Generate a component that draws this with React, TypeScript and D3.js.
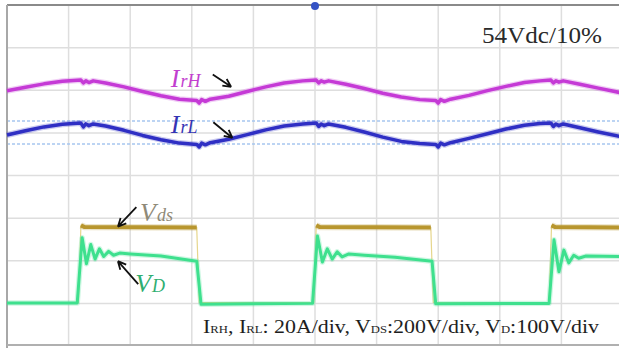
import React, { useEffect, useRef } from 'react';
import * as d3 from 'd3';

// scope screen: 10 x 8 divisions, values below are in divisions
const irH: [number, number][] = [
  [0, 5.99], [0.3, 6.07], [0.6, 6.15], [0.9, 6.21], [1.2, 6.24], [1.24, 6.17], [1.28, 6.22], [1.33, 6.18], [1.4, 6.22],
  [1.6, 6.17], [1.9, 6.08], [2.2, 5.97], [2.5, 5.87], [2.8, 5.79], [3.08, 5.76], [3.12, 5.7], [3.16, 5.78], [3.22, 5.74],
  [3.3, 5.79], [3.6, 5.86], [3.9, 5.97], [4.2, 6.08], [4.5, 6.17], [4.8, 6.22], [5.02, 6.24], [5.06, 6.17], [5.1, 6.22],
  [5.15, 6.19], [5.22, 6.22], [5.5, 6.14], [5.8, 6.04], [6.1, 5.93], [6.4, 5.84], [6.7, 5.78], [6.96, 5.76], [7.0, 5.7],
  [7.04, 5.78], [7.1, 5.74], [7.2, 5.79], [7.5, 5.88], [7.8, 5.99], [8.1, 6.09], [8.4, 6.18], [8.65, 6.22], [8.83, 6.24],
  [8.87, 6.17], [8.91, 6.22], [8.96, 6.19], [9.03, 6.22], [9.3, 6.14], [9.6, 6.05], [10, 5.93],
];

const irL: [number, number][] = [
  [0, 4.95], [0.3, 5.05], [0.6, 5.14], [0.9, 5.2], [1.2, 5.23], [1.24, 5.14], [1.28, 5.21], [1.33, 5.17], [1.4, 5.21],
  [1.6, 5.16], [1.9, 5.06], [2.2, 4.94], [2.5, 4.84], [2.8, 4.76], [3.08, 4.73], [3.12, 4.67], [3.16, 4.76], [3.22, 4.72],
  [3.3, 4.77], [3.6, 4.85], [3.9, 4.96], [4.2, 5.07], [4.5, 5.16], [4.8, 5.21], [5.02, 5.23], [5.06, 5.15], [5.1, 5.21],
  [5.15, 5.17], [5.22, 5.21], [5.5, 5.13], [5.8, 5.02], [6.1, 4.9], [6.4, 4.8], [6.7, 4.75], [6.96, 4.73], [7.0, 4.67],
  [7.04, 4.76], [7.1, 4.72], [7.2, 4.77], [7.5, 4.87], [7.8, 4.98], [8.1, 5.09], [8.4, 5.18], [8.65, 5.22], [8.83, 5.23],
  [8.87, 5.15], [8.91, 5.21], [8.96, 5.17], [9.03, 5.21], [9.3, 5.12], [9.6, 5.02], [10, 4.9],
];

const vds: [number, number][] = [
  [0, 1.02], [1.16, 1.02], [1.2, 2.83], [1.26, 2.79], [3.08, 2.78], [3.12, 1.02], [4.98, 1.02], [5.02, 2.83],
  [5.08, 2.79], [6.88, 2.78], [6.92, 1.02], [8.8, 1.02], [8.84, 2.83], [8.9, 2.79], [10, 2.78],
];

const vD: [number, number][] = [
  [0, 1.01], [1.14, 1.01], [1.22, 2.54], [1.29, 1.93], [1.36, 2.38], [1.43, 2.04], [1.5, 2.28], [1.57, 2.1], [1.65, 2.22],
  [1.73, 2.13], [1.83, 2.18], [2.0, 2.16], [2.5, 2.11], [3.08, 1.99], [3.15, 0.98], [4.96, 1.0], [5.04, 2.58], [5.12, 1.97],
  [5.2, 2.28], [5.28, 2.04], [5.36, 2.21], [5.44, 2.09], [5.55, 2.16], [5.8, 2.13], [6.3, 2.08], [6.9, 1.99], [6.96, 0.99],
  [8.8, 1.0], [8.88, 2.49], [8.96, 1.74], [9.04, 2.25], [9.12, 1.95], [9.2, 2.13], [9.28, 2.06], [9.4, 2.11], [10, 2.1],
];

const cursorLevels = [5.28, 4.74];
const triggerTime = 5.0;

// annotation anchors (divisions): label position, arrow tail, arrow tip
const notes = [
  { main: 'I', sub: 'rH', color: '#c23fcf', at: [2.66, 6.07], tail: [3.34, 6.37], tip: [3.64, 6.08] },
  { main: 'I', sub: 'rL', color: '#3434b4', at: [2.66, 5.0], tail: [3.35, 5.25], tip: [3.66, 4.88] },
  { main: 'V', sub: 'ds', color: '#8f8a78', at: [2.16, 2.93], tail: [2.1, 3.26], tip: [1.8, 2.8] },
  { main: 'V', sub: 'D', color: '#2fae70', at: [2.08, 1.27], tail: [2.13, 1.45], tip: [1.8, 1.99] },
];

const W = 619;
const H = 348;

function ScopeChart() {
  const ref = useRef<SVGSVGElement>(null);

  useEffect(() => {
    const svg = d3.select(ref.current);
    svg.selectAll('*').remove();

    const x = d3.scaleLinear().domain([0, 10]).range([7, 623]);
    const y = d3.scaleLinear().domain([0, 8]).range([346, 5]);

    svg.append('rect').attr('width', W).attr('height', H).attr('fill', '#fff');

    // graticule
    const grid = svg.append('g').attr('stroke', '#dedede').attr('stroke-width', 1.5);
    grid.selectAll('.vg').data(d3.range(1, 10)).enter().append('line')
      .attr('x1', d => x(d)).attr('x2', d => x(d)).attr('y1', y(8)).attr('y2', y(0));
    grid.selectAll('.hg').data(d3.range(1, 8)).enter().append('line')
      .attr('x1', x(0)).attr('x2', x(10)).attr('y1', d => y(d)).attr('y2', d => y(d));

    svg.selectAll('.cursor').data(cursorLevels).enter().append('line')
      .attr('x1', x(0)).attr('x2', W).attr('y1', d => y(d)).attr('y2', d => y(d))
      .attr('stroke', '#a6c6f0').attr('stroke-width', 1.5).attr('stroke-dasharray', '3,2');

    // frame
    svg.append('line').attr('x1', x(0)).attr('x2', W).attr('y1', y(8)).attr('y2', y(8))
      .attr('stroke', '#8a8a8a').attr('stroke-width', 2);
    svg.append('line').attr('x1', x(0)).attr('x2', x(0)).attr('y1', y(8)).attr('y2', H)
      .attr('stroke', '#a8a8a8').attr('stroke-width', 2);
    svg.append('line').attr('x1', x(0)).attr('x2', W).attr('y1', 345).attr('y2', 345)
      .attr('stroke', '#b0b0b0').attr('stroke-width', 2);

    const line = d3.line<[number, number]>().x(d => x(d[0])).y(d => y(d[1]));
    const high = d3.line<[number, number]>().defined(d => d[1] > 2).x(d => x(d[0])).y(d => y(d[1]));

    const trace = (data: [number, number][], color: string, w: number, gen = line) => {
      svg.append('path').datum(data).attr('d', gen).attr('fill', 'none')
        .attr('stroke', color).attr('stroke-opacity', 0.25).attr('stroke-width', w + 2.5)
        .attr('stroke-linejoin', 'round');
      svg.append('path').datum(data).attr('d', gen).attr('fill', 'none')
        .attr('stroke', color).attr('stroke-width', w).attr('stroke-linejoin', 'round');
    };

    // Vds: faint full trace, heavy top level
    svg.append('path').datum(vds).attr('d', line).attr('fill', 'none')
      .attr('stroke', '#e6d68c').attr('stroke-width', 1.2);
    trace(vds, '#b8962e', 4, high);
    trace(vD, '#3ee08e', 3);
    trace(irH, '#c53ad6', 3.5);
    trace(irL, '#2f2fc4', 3.5);

    // trigger marker
    svg.append('circle').attr('cx', x(triggerTime)).attr('cy', y(8) + 1).attr('r', 4).attr('fill', '#3553c4');

    // labels + arrows
    notes.forEach(n => {
      const txt = svg.append('text').attr('x', x(n.at[0])).attr('y', y(n.at[1]))
        .attr('font-family', '"Liberation Serif", serif').attr('font-style', 'italic')
        .attr('fill', n.color);
      txt.append('tspan').attr('font-size', 26).text(n.main);
      txt.append('tspan').attr('font-size', 18).attr('dx', 1).text(n.sub);

      const x0 = x(n.tail[0]), y0 = y(n.tail[1]), x1 = x(n.tip[0]), y1 = y(n.tip[1]);
      const a = Math.atan2(y1 - y0, x1 - x0);
      const hl = 9;
      const head = [a + Math.PI - 0.45, a + Math.PI + 0.45]
        .map(b => `M${x1 + hl * Math.cos(b)},${y1 + hl * Math.sin(b)}L${x1},${y1}`).join('');
      svg.append('path').attr('d', `M${x0},${y0}L${x1},${y1}${head}`)
        .attr('fill', 'none').attr('stroke', '#111').attr('stroke-width', 1.8);
    });

    svg.append('text').attr('x', 482).attr('y', 43)
      .attr('font-family', '"Liberation Serif", serif').attr('font-size', 24).attr('fill', '#2a2a2a')
      .attr('textLength', 120).attr('lengthAdjust', 'spacingAndGlyphs')
      .text('54Vdc/10%');

    const scale = svg.append('text').attr('x', 203).attr('y', 333)
      .attr('font-family', '"Liberation Serif", serif').attr('font-size', 19).attr('fill', '#1e1e1e')
      .attr('textLength', 396).attr('lengthAdjust', 'spacingAndGlyphs');
    const parts: [string, boolean][] = [
      ['I', false], ['rH', true], [', I', false], ['rL', true], [': 20A/div, V', false], ['ds', true],
      [':200V/div, V', false], ['D', true], [':100V/div', false],
    ];
    parts.forEach(([s, small]) => {
      scale.append('tspan').attr('font-size', small ? 11 : 19).text(small ? s.toUpperCase() : s);
    });
  }, []);

  return <svg ref={ref} width={W} height={H} style={{ position: 'absolute', left: 0, top: 0 }} />;
}

export default function App() {
  return <ScopeChart />;
}
